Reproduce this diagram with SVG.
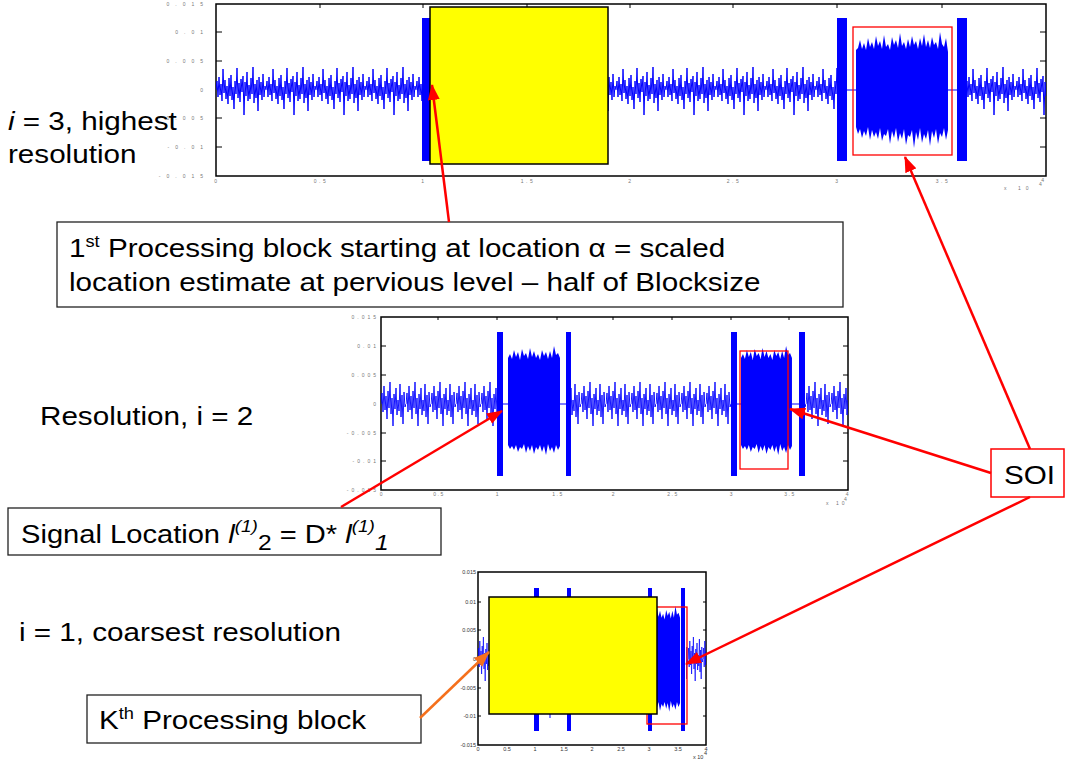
<svg xmlns="http://www.w3.org/2000/svg" width="1068" height="761" viewBox="0 0 1068 761">
<style>
.lbl{font-family:"Liberation Sans",Arial,sans-serif;font-size:26px;fill:#000}
.tk{font-family:"Liberation Sans",Arial,sans-serif;font-size:5px;fill:#777}
.tk2{font-family:"Liberation Sans",Arial,sans-serif;font-size:5.5px;fill:#333}
.frame{fill:#fff;stroke:#000;stroke-width:1.5}
.tick{stroke:#000;stroke-width:1}
.burst{fill:#0000ff}
.flat{stroke:#0000ff;stroke-width:1;fill:none}
.soi{fill:none;stroke:#ff0000;stroke-width:1.3}
.yel{fill:#ffff00;stroke:#000;stroke-width:1.5}
.box{fill:#fff;stroke:#222;stroke-width:1.3}
.arr{stroke:#ff0000;stroke-width:2.5;fill:none;marker-end:url(#ahR)}
.arrO{stroke:#f5701c;stroke-width:2.5;fill:none;marker-end:url(#ahO)}
.nz{fill:none;stroke:#0000ff;stroke-linejoin:bevel}
</style>
<defs>
<marker id="ahR" markerUnits="userSpaceOnUse" markerWidth="16" markerHeight="12" refX="15" refY="6" orient="auto"><path d="M0,0 L16,6 L0,12 z" fill="#ff0000"/></marker>
<marker id="ahO" markerUnits="userSpaceOnUse" markerWidth="16" markerHeight="12" refX="15" refY="6" orient="auto"><path d="M0,0 L16,6 L0,12 z" fill="#f5701c"/></marker>
<pattern id="nTop" patternUnits="userSpaceOnUse" x="216" y="60" width="50" height="60"><path class="nz" stroke-width="1" d="M0,30 L1,21 L2,37 L3,17 L4,35 L5,24 L6,41 L7,9 L8,33 L9,20 L10,39 L11,26 L12,44 L13,18 L14,36 L15,15 L16,40 L17,27 L18,49 L19,21 L20,34 L21,8 L22,38 L23,23 L24,42 L25,19 L26,32 L27,16 L28,55 L29,22 L30,36 L31,12 L32,41 L33,25 L34,39 L35,18 L36,34 L37,7 L38,43 L39,24 L40,38 L41,20 L42,51 L43,17 L44,35 L45,22 L46,40 L47,14 L48,37 L49,26 L50,30"/></pattern>
<pattern id="nMid" patternUnits="userSpaceOnUse" x="381" y="374" width="25" height="60"><path class="nz" stroke-width="0.9" d="M0,30 L1,19 L2,38 L3,12 L4,36 L5,22 L6,45 L7,17 L8,34 L9,8 L10,40 L11,24 L12,52 L13,20 L14,35 L15,14 L16,41 L17,26 L18,37 L19,10 L20,43 L21,21 L22,50 L23,18 L24,33 L25,30"/></pattern>
<pattern id="nBot" patternUnits="userSpaceOnUse" x="478" y="629" width="15" height="60"><path class="nz" stroke-width="0.7" d="M0,30 L0.6,19 L1.2,38 L1.8,12 L2.4,36 L3,22 L3.6,45 L4.2,17 L4.8,34 L5.4,8 L6,40 L6.6,24 L7.2,52 L7.8,20 L8.4,35 L9,14 L9.6,41 L10.2,26 L10.8,37 L11.4,10 L12,43 L12.6,21 L13.2,50 L13.8,18 L14.4,33 L15,30"/></pattern>
<path id="mblock" d="M0,12 L2,8 L4,13 L6,4 L8,11 L10,6 L12,14 L14,3 L16,10 L18,7 L20,13 L22,2 L24,11 L26,5 L28,12 L30,8 L32,14 L34,4 L36,10 L38,6 L40,13 L42,5 L44,12 L46,0 L48,9 L50,7 L52,12 L52,100 L50,104 L48,99 L46,107 L44,101 L42,105 L40,98 L38,109 L36,100 L34,106 L32,99 L30,104 L28,101 L26,108 L24,99 L22,105 L20,100 L18,107 L16,98 L14,103 L12,101 L10,106 L8,99 L6,104 L4,100 L2,103 L0,99 z" fill="#0000ff"/>
</defs>
<rect width="1068" height="761" fill="#fff"/>

<g id="plot-top">
<rect class="frame" x="216" y="4" width="830" height="172"/>
<g class="tick">
<path d="M216,32h6M216,61h6M216,118h6M216,147h6M1046,32h-6M1046,61h-6M1046,118h-6M1046,147h-6M320,4v4M423,4v4M527,4v4M630,4v4M733,4v4M837,4v4M942,4v4"/>
</g>
<g class="tk" text-anchor="end" letter-spacing="6">
<text x="209" y="6">0.015</text><text x="209" y="34">0.01</text><text x="209" y="63">0.005</text><text x="209" y="92">0</text><text x="209" y="120">-0.005</text><text x="209" y="149">-0.01</text><text x="209" y="178">-0.015</text>
</g>
<g class="tk" text-anchor="middle" letter-spacing="2.5">
<text x="217" y="183">0</text><text x="321" y="183">0.5</text><text x="424" y="183">1</text><text x="528" y="183">1.5</text><text x="631" y="183">2</text><text x="734" y="183">2.5</text><text x="838" y="183">3</text><text x="943" y="183">3.5</text><text x="1044" y="182">4</text>
</g>
<text class="tk" x="1004" y="190" letter-spacing="5">x 10</text><text class="tk" x="1039" y="186" font-size="4">4</text>
<rect x="216" y="60" width="207" height="60" fill="url(#nTop)"/>
<rect x="608" y="60" width="229" height="60" fill="url(#nTop)"/>
<rect x="967" y="60" width="79" height="60" fill="url(#nTop)"/>
<rect class="burst" x="422" y="18" width="8" height="143"/>
<rect class="burst" x="837" y="18" width="10" height="143"/>
<rect class="burst" x="957" y="18" width="10" height="143"/>
<path class="flat" d="M847,90H856M948,90H957"/>
<polygon fill="#0000ff" points="856,50 858,48 860,40 862,49 864,43 866,50 868,38 870,47 872,42 874,49 876,36 878,46 880,41 882,49 884,35 886,47 888,44 890,50 892,37 894,45 896,40 898,48 900,33 902,46 904,42 906,49 908,39 910,47 912,36 914,45 916,41 918,49 920,38 922,46 924,34 926,47 928,40 930,48 932,37 934,45 936,42 938,49 940,32 942,44 944,47 946,38 948,52 948,130 946,140 944,128 942,137 940,133 938,144 936,129 934,138 932,131 930,146 928,130 926,139 924,134 922,143 920,128 918,140 916,132 914,148 912,130 910,137 908,135 906,145 904,129 902,139 900,133 898,142 896,128 894,138 892,131 890,144 888,129 886,136 884,134 882,141 880,128 878,139 876,132 874,137 872,130 870,140 868,127 866,136 864,131 862,138 860,129 858,134 856,127"/>
<rect class="soi" x="853" y="27" width="99" height="128"/>
<rect class="yel" x="430" y="7" width="178" height="157"/>
</g>

<g id="plot-mid">
<rect class="frame" x="381" y="317" width="467" height="173"/>
<g class="tick">
<path d="M381,346h5M381,375h5M381,433h5M381,461h5M848,346h-5M848,375h-5M848,433h-5M848,461h-5M438,317v3M497,317v3M557,317v3M613,317v3M672,317v3M731,317v3M789,317v3"/>
</g>
<g class="tk" text-anchor="end" letter-spacing="3">
<text x="379" y="319">0.015</text><text x="379" y="348">0.01</text><text x="379" y="377">0.005</text><text x="379" y="406">0</text><text x="379" y="435">-0.005</text><text x="379" y="463">-0.01</text><text x="379" y="492">-0.015</text>
</g>
<g class="tk" text-anchor="middle" letter-spacing="1.5" font-size="4.5">
<text x="382" y="496">0</text><text x="439" y="496">0.5</text><text x="498" y="496">1</text><text x="558" y="496">1.5</text><text x="614" y="496">2</text><text x="673" y="496">2.5</text><text x="732" y="496">3</text><text x="790" y="496">3.5</text><text x="848" y="496">4</text>
</g>
<text class="tk" x="826" y="505" letter-spacing="3" font-size="4.5">x 10</text><text class="tk" x="844" y="501" font-size="4">4</text>
<rect x="381" y="374" width="116" height="60" fill="url(#nMid)"/>
<rect x="571" y="374" width="160" height="60" fill="url(#nMid)"/>
<rect x="805" y="374" width="43" height="60" fill="url(#nMid)"/>
<path class="flat" d="M503,404H508M560,404H566M737,404H741M792,404H799"/>
<use href="#mblock" transform="translate(508,346)"/>
<use href="#mblock" transform="translate(741,346) scale(0.98,1)"/>
<rect class="burst" x="497" y="332" width="6" height="144"/>
<rect class="burst" x="566" y="332" width="5" height="144"/>
<rect class="burst" x="731" y="332" width="6" height="144"/>
<rect class="burst" x="799" y="332" width="6" height="144"/>
<rect class="soi" x="740" y="351" width="48" height="118"/>
</g>

<g id="plot-bottom">
<rect class="frame" x="478" y="572" width="228" height="173" stroke-width="1.2"/>
<g class="tick">
<path d="M478,602h3M478,630h3M478,688h3M478,716h3M706,602h-3M706,630h-3M706,688h-3M706,716h-3"/>
</g>
<g class="tk2" text-anchor="end">
<text x="476" y="574">0.015</text><text x="476" y="604">0.01</text><text x="476" y="632">0.005</text><text x="476" y="661">0</text><text x="476" y="690">-0.005</text><text x="476" y="718">-0.01</text><text x="476" y="747">-0.015</text>
</g>
<g class="tk2" text-anchor="middle">
<text x="478" y="751">0</text><text x="507" y="751">0.5</text><text x="535" y="751">1</text><text x="564" y="751">1.5</text><text x="592" y="751">2</text><text x="621" y="751">2.5</text><text x="649" y="751">3</text><text x="678" y="751">3.5</text><text x="706" y="751">4</text>
</g>
<text class="tk2" x="693" y="759">x 10</text><text class="tk2" x="704" y="755" font-size="4">4</text>
<rect x="478" y="629" width="12" height="60" fill="url(#nBot)"/>
<rect x="686" y="629" width="20" height="60" fill="url(#nBot)"/>
<use href="#mblock" transform="translate(640,606) scale(0.77,0.97)"/>
<rect class="burst" x="534" y="588" width="5" height="143"/>
<rect class="burst" x="567" y="588" width="4" height="143"/>
<rect class="burst" x="648" y="588" width="4" height="143"/>
<rect class="burst" x="681" y="588" width="4" height="143"/>
<path class="flat" d="M550,712V718"/>
<rect class="soi" x="647" y="607" width="40" height="117"/>
<rect class="yel" x="489" y="597" width="168" height="117"/>
</g>

<g id="label-i3">
<text class="lbl" transform="translate(8,130) scale(1.14,1)"><tspan font-style="italic">i</tspan> = 3, highest</text>
<text class="lbl" transform="translate(8,163) scale(1.14,1)">resolution</text>
</g>
<g id="label-i2">
<text class="lbl" transform="translate(40,425) scale(1.14,1)">Resolution, i = 2</text>
</g>
<g id="label-i1">
<text class="lbl" transform="translate(19,641) scale(1.14,1)">i = 1, coarsest resolution</text>
</g>

<g id="box-first-block">
<rect class="box" x="57" y="222" width="786" height="85"/>
<text class="lbl" transform="translate(69,257) scale(1.14,1)">1<tspan font-size="16" dy="-10">st</tspan><tspan dy="10"> Processing block starting at location α = scaled</tspan></text>
<text class="lbl" transform="translate(69,291) scale(1.14,1)">location estimate at pervious level – half of Blocksize</text>
</g>

<g id="box-signal-location">
<rect class="box" x="8" y="508" width="433" height="47"/>
<text class="lbl" transform="translate(21,543) scale(1.12,1)">Signal Location <tspan font-style="italic">l</tspan><tspan font-style="italic" font-size="17" dy="-11">(1)</tspan><tspan font-size="22" dy="18">2</tspan><tspan dy="-7"> = D* </tspan><tspan font-style="italic">l</tspan><tspan font-style="italic" font-size="17" dy="-11">(1)</tspan><tspan font-style="italic" font-size="22" dy="18">1</tspan></text>
</g>

<g id="box-kth-block">
<rect class="box" x="87" y="695" width="334" height="48"/>
<text class="lbl" transform="translate(99,729) scale(1.14,1)">K<tspan font-size="16" dy="-10">th</tspan><tspan dy="10"> Processing block</tspan></text>
</g>

<g id="box-soi">
<rect x="991" y="449" width="73" height="48" fill="#fff" stroke="#ff0000" stroke-width="1.5"/>
<text class="lbl" transform="translate(1004,484) scale(1.14,1)">SOI</text>
</g>

<g id="connectors">
<line class="arr" x1="449" y1="222" x2="432" y2="85"/>
<line class="arr" x1="1030" y1="449" x2="905" y2="157"/>
<line class="arr" x1="991" y1="473" x2="790" y2="409"/>
<line class="arr" x1="1030" y1="497" x2="686" y2="664"/>
<line class="arr" x1="341" y1="507" x2="502" y2="411"/>
<line class="arrO" x1="420" y1="718" x2="489" y2="652"/>
</g>
</svg>
